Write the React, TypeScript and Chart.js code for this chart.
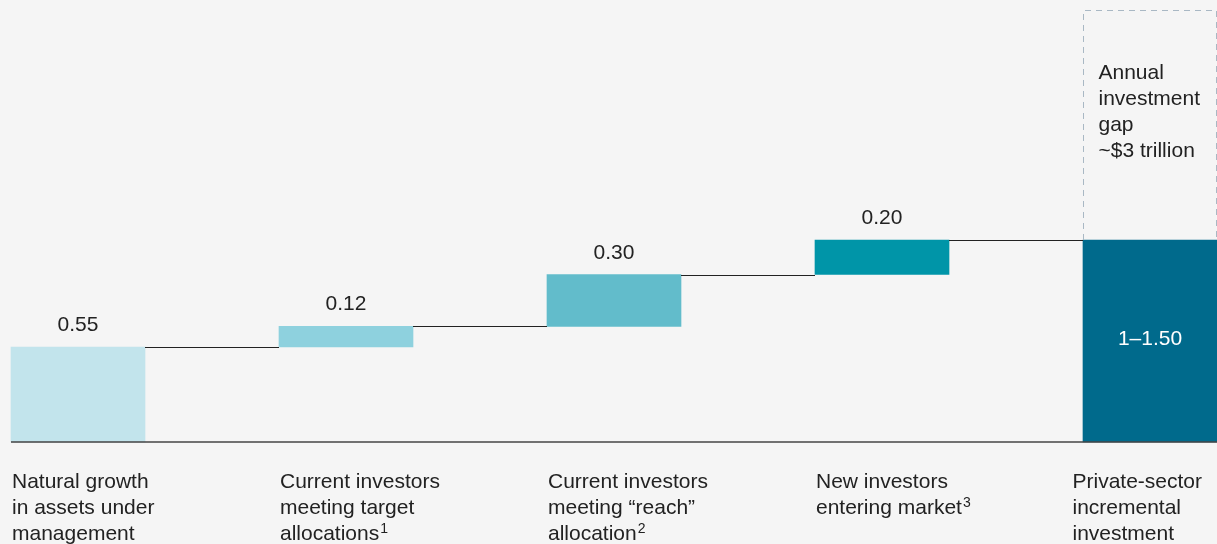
import { useEffect, useRef } from "react";
import { Chart, registerables } from "chart.js";

Chart.register(...registerables);

const categoryLines: string[][] = [
  ["Natural growth", "in assets under", "management"],
  ["Current investors", "meeting target", "allocations"],
  ["Current investors", "meeting \u201creach\u201d", "allocation"],
  ["New investors", "entering market"],
  ["Private-sector", "incremental", "investment"],
];
const footnotes = ["", "1", "2", "3", ""];
const increments = [0.55, 0.12, 0.3, 0.2];
const valueLabels = ["0.55", "0.12", "0.30", "0.20"];
const totalLabel = "1\u20131.50";
const gapTop = 2.5;
const gapLines = ["Annual", "investment", "gap", "~$3 trillion"];
const yMax = 2.56;

const barColors = ["#c2e4ec", "#8ed1de", "#62bccb", "#0095a8", "#006a8c"];
const BG = "#f5f5f5";
const TEXT = "#222222";
const FONT = '"Liberation Sans", Arial, sans-serif';

export default function App() {
  const ref = useRef<HTMLCanvasElement | null>(null);

  useEffect(() => {
    document.body.style.margin = "0";
    document.body.style.background = BG;
    const canvas = ref.current;
    if (!canvas) return;

    const ranges: ([number, number] | null)[] = [];
    let cum = 0;
    increments.forEach((v) => {
      ranges.push([cum, cum + v]);
      cum += v;
    });
    const total = cum;
    ranges.push([0, total]);
    const gapData: ([number, number] | null)[] = increments.map(() => null);
    gapData.push([total, gapTop]);

    const overlay = {
      id: "overlay",
      beforeDraw(chart: any) {
        const ctx = chart.ctx;
        ctx.save();
        ctx.fillStyle = BG;
        ctx.fillRect(0, 0, chart.width, chart.height);
        ctx.restore();
      },
      afterDatasetsDraw(chart: any) {
        const ctx = chart.ctx;
        const bars = chart.getDatasetMeta(0).data as any[];
        const yScale = chart.scales.y;
        ctx.save();

        // connectors
        ctx.strokeStyle = "#222";
        ctx.lineWidth = 1;
        for (let i = 0; i < bars.length - 1; i++) {
          const a = bars[i];
          const b = bars[i + 1];
          const y = Math.round(Math.min(a.y, a.base)) + 0.5;
          ctx.beginPath();
          ctx.moveTo(a.x + a.width / 2, y);
          ctx.lineTo(b.x - b.width / 2, y);
          ctx.stroke();
        }

        // baseline
        const base = yScale.getPixelForValue(0);
        ctx.strokeStyle = "#444";
        ctx.lineWidth = 1.5;
        ctx.beginPath();
        ctx.moveTo(bars[0].x - bars[0].width / 2, base);
        ctx.lineTo(chart.width, base);
        ctx.stroke();

        // dashed gap box
        const last = bars[bars.length - 1];
        const gl = last.x - last.width / 2 + 0.5;
        const gr = Math.min(last.x + last.width / 2, chart.width) - 0.5;
        const gt = Math.round(yScale.getPixelForValue(gapTop)) + 0.5;
        const gb = last.y;
        ctx.strokeStyle = "#a9b8c4";
        ctx.lineWidth = 1;
        ctx.setLineDash([6, 5]);
        ctx.beginPath();
        ctx.moveTo(gl, gb);
        ctx.lineTo(gl, gt);
        ctx.lineTo(gr, gt);
        ctx.lineTo(gr, gb);
        ctx.stroke();
        ctx.setLineDash([]);

        // value labels
        ctx.font = `21px ${FONT}`;
        ctx.fillStyle = TEXT;
        ctx.textAlign = "center";
        ctx.textBaseline = "alphabetic";
        valueLabels.forEach((t, i) => {
          const b = bars[i];
          ctx.fillText(t, b.x, Math.min(b.y, b.base) - 16);
        });

        // total label inside
        ctx.fillStyle = "#ffffff";
        ctx.textBaseline = "middle";
        ctx.fillText(totalLabel, last.x, (last.y + last.base) / 2 - 2);

        // gap text
        ctx.fillStyle = TEXT;
        ctx.textAlign = "left";
        ctx.textBaseline = "alphabetic";
        gapLines.forEach((t, i) => {
          ctx.fillText(t, gl + 15, gt + 68 + i * 26.3);
        });

        // category labels
        categoryLines.forEach((lines, i) => {
          const b = bars[i];
          ctx.font = `21px ${FONT}`;
          let maxW = 0;
          lines.forEach((l) => (maxW = Math.max(maxW, ctx.measureText(l).width)));
          let left = b.x - b.width / 2 + 1;
          left = Math.min(left, chart.width - 15 - maxW);
          lines.forEach((l, j) => {
            const y = base + 46 + j * 26;
            ctx.font = `21px ${FONT}`;
            ctx.fillStyle = TEXT;
            ctx.fillText(l, left, y);
            if (j === lines.length - 1 && footnotes[i]) {
              const w = ctx.measureText(l).width;
              ctx.font = `14px ${FONT}`;
              ctx.fillText(footnotes[i], left + w + 1, y - 7);
            }
          });
        });

        ctx.restore();
      },
    };

    const chart = new Chart(canvas, {
      type: "bar",
      data: {
        labels: categoryLines.map((l) => l.join(" ")),
        datasets: [
          {
            data: ranges as any,
            backgroundColor: barColors,
            borderWidth: 0,
            barThickness: 134,
            clip: false as any,
            grouped: false,
          },
          {
            data: gapData as any,
            backgroundColor: "rgba(0,0,0,0)",
            borderWidth: 0,
            barThickness: 134,
            clip: false as any,
            grouped: false,
          },
        ],
      },
      options: {
        responsive: false,
        animation: false,
        layout: { padding: { left: 78, right: 67, top: 0, bottom: 102 } },
        plugins: { legend: { display: false }, tooltip: { enabled: false } },
        scales: {
          x: { display: false, offset: false },
          y: { display: false, min: 0, max: yMax },
        },
      },
      plugins: [overlay],
    });

    return () => chart.destroy();
  }, []);

  return (
    <div style={{ width: 1217, height: 544, background: BG }}>
      <canvas ref={ref} width={1217} height={544} style={{ display: "block" }} />
    </div>
  );
}
